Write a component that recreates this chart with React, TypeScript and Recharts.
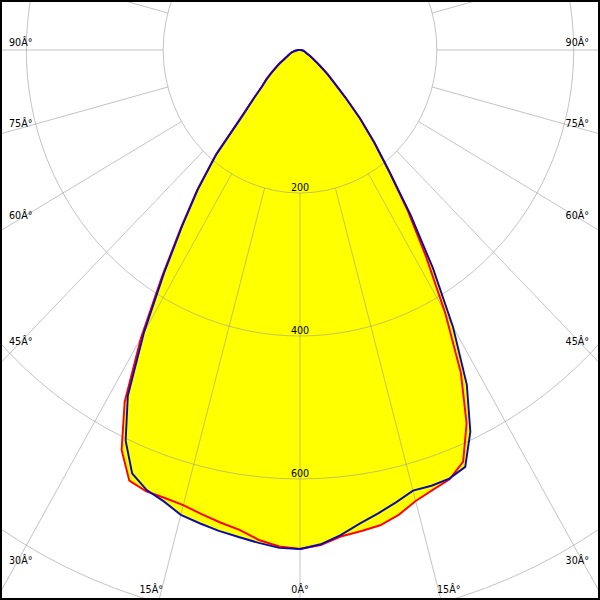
import React from 'react';
import { RadarChart, Radar, PolarGrid, PolarAngleAxis, PolarRadiusAxis } from 'recharts';

// gamma (deg from nadir), 2.5 deg steps, lower hemisphere
const gammaLower = [
  0, 2.5, 5, 7.5, 10, 12.5, 15, 17.5, 20, 22.5, 25, 27.5, 30, 32.5, 35, 37.5, 40, 42.5, 45,
  47.5, 50, 52.5, 55, 57.5, 60, 62.5, 65, 67.5, 70, 72.5, 75, 77.5, 80, 82.5, 85, 87.5, 90,
];
// upper hemisphere, no light above the horizon
const gammaUpper = [
  92.5, 95, 97.5, 100, 102.5, 105, 107.5, 110, 112.5, 115, 117.5, 120, 122.5, 125, 127.5, 130,
  132.5, 135, 137.5, 140, 142.5, 145, 147.5, 150, 152.5, 155, 157.5, 160, 162.5, 165, 167.5,
  170, 172.5, 175, 177.5, 180,
];
const upperValues = [
  0, 0, 0, 0, 0, 0, 0, 0, 0, 0, 0, 0, 0, 0, 0, 0, 0, 0, 0, 0, 0, 0, 0, 0, 0, 0, 0, 0, 0, 0, 0,
  0, 0, 0, 0, 0,
];

// cd/klm
const redRight = [
  698, 693, 683, 679, 675, 666, 653, 645, 639, 623, 576, 509, 424, 343, 275, 213, 168, 129, 93,
  67, 52, 38, 29, 22, 17, 13, 10, 9, 8, 7, 6, 5, 4, 3, 2, 2, 1,
];
const blueRight = [
  698, 692, 681, 668, 658, 648, 638, 639, 638, 631, 589, 528, 447, 361, 282, 215, 169, 130, 94,
  68, 53, 38, 29, 22, 17, 13, 10, 9, 8, 7, 6, 5, 4, 3, 2, 2, 1,
];
const redLeft = [
  698, 695, 688, 677, 671, 665, 659, 657, 657, 652, 617, 555, 465, 375, 303, 247, 192, 126, 96,
  76, 65, 54, 44, 37, 29, 24, 20, 18, 16, 14, 12, 10, 8, 6, 4, 3, 2,
];
const blueLeft = [
  698, 697, 692, 687, 683, 678, 673, 662, 655, 641, 603, 545, 456, 370, 300, 245, 190, 124, 95,
  75, 64, 53, 43, 36, 28, 24, 20, 18, 16, 14, 12, 10, 8, 6, 4, 3, 2,
];

const angleLabels = [0, 15, 30, 45, 60, 75, 90];
const gridGammas = [0, 15, 30, 45, 60, 75, 90, 105, 120, 135, 150, 165, 180];
const ringLabels = [200, 400, 600];

const halfGammas = [...gammaLower, ...gammaUpper];
const rR = [...redRight, ...upperValues];
const bR = [...blueRight, ...upperValues];
const rL = [...redLeft, ...upperValues];
const bL = [...blueLeft, ...upperValues];

// theta: angle on screen from nadir, right half first (0..180), then left half (180..360)
type Row = { theta: number; red: number; blue: number };
const data: Row[] = [];
halfGammas.forEach((g, i) => {
  data.push({ theta: g, red: rR[i], blue: bR[i] });
});
for (let i = halfGammas.length - 2; i >= 1; i--) {
  data.push({ theta: 360 - halfGammas[i], red: rL[i], blue: bL[i] });
}

const labelThetas = Array.from(new Set(angleLabels.flatMap((g) => [g, (360 - g) % 360])));

// the source image is squeezed horizontally
const SQUEEZE = 0.957;
const W = 627;
const H = 600;
const CX = W / 2;
const CY = 50;
const OUTER = 715;
const RMAX = 1000;
const ringPx = (v: number) => (v / RMAX) * OUTER;

const gridAngles = Array.from(new Set(gridGammas.flatMap((g) => [-90 + g, -90 - g])));

const font = { fontFamily: '"DejaVu Sans", Verdana, sans-serif', fontSize: 10 };

const AngleTick = (props: any) => {
  const theta = props.payload?.value;
  if (typeof theta !== 'number' || !labelThetas.includes(theta)) return <g />;
  const right = theta <= 180;
  const g = right ? theta : 360 - theta;
  const sign = right ? 1 : -1;
  const label = `${g}Â°`;
  if (g === 0) {
    return (
      <text x={CX} y={593} textAnchor="middle" fill="#000" style={font}>
        {label}
      </text>
    );
  }
  if (g < 30) {
    const dx = 539 * Math.tan((g * Math.PI) / 180) + 11;
    return (
      <text x={CX + sign * dx} y={593} textAnchor="middle" fill="#000" style={font}>
        {label}
      </text>
    );
  }
  const y = CY + (CX - 14.5) / Math.tan((g * Math.PI) / 180) - 3.5;
  return (
    <text
      x={right ? W - 11.5 : 9.4}
      y={y}
      textAnchor={right ? 'end' : 'start'}
      fill="#000"
      style={font}
    >
      {label}
    </text>
  );
};

const RadiusTick = (props: any) => {
  const v = props.payload?.value;
  if (!ringLabels.includes(v)) return <g />;
  return (
    <text x={props.x} y={props.y - 2} textAnchor="middle" fill="#000" style={font}>
      {v}
    </text>
  );
};

// radial lines start at the 200 ring
const dashSkip = `0 ${ringPx(200)} ${OUTER} 0`;

export default function App() {
  return (
    <div
      style={{
        position: 'absolute',
        left: 0,
        top: 0,
        width: 600,
        height: 600,
        overflow: 'hidden',
        background: '#fff',
      }}
    >
      <div style={{ width: W, height: H, transform: `scaleX(${SQUEEZE})`, transformOrigin: '0 0' }}>
        <RadarChart
          width={W}
          height={H}
          data={data}
          cx={CX}
          cy={CY}
          outerRadius={OUTER}
          startAngle={-90}
          endAngle={270}
          margin={{ top: 0, right: 0, bottom: 0, left: 0 }}
        >
          <Radar dataKey="red" fill="#ffff00" fillOpacity={1} stroke="none" dot={false} activeDot={false} isAnimationActive={false} zIndex={100} />
          <Radar dataKey="blue" fill="#ffff00" fillOpacity={1} stroke="none" dot={false} activeDot={false} isAnimationActive={false} zIndex={100} />
          <PolarGrid
            gridType="circle"
            radialLines={false}
            stroke="#999"
            strokeOpacity={0.6}
            strokeWidth={1}
            zIndex={200}
          />
          <PolarGrid
            gridType="circle"
            polarAngles={gridAngles}
            polarRadius={[]}
            stroke="#999"
            strokeOpacity={0.6}
            strokeWidth={1}
            strokeDasharray={dashSkip}
            zIndex={200}
          />
          <Radar dataKey="red" fill="none" stroke="#ff0000" strokeWidth={2} dot={false} activeDot={false} isAnimationActive={false} zIndex={300} />
          <Radar dataKey="blue" fill="none" stroke="#0a0ab4" strokeWidth={2} dot={false} activeDot={false} isAnimationActive={false} zIndex={300} />
          <PolarAngleAxis
            type="number"
            dataKey="theta"
            domain={[0, 360]}
            ticks={labelThetas}
            axisLine={false}
            tickLine={false}
            tick={AngleTick}
            zIndex={400}
          />
          <PolarRadiusAxis
            type="number"
            angle={-90}
            domain={[0, RMAX]}
            tickCount={6}
            axisLine={false}
            tickLine={false}
            tick={RadiusTick}
            zIndex={400}
          />
        </RadarChart>
      </div>
      <div
        style={{
          position: 'absolute',
          inset: 0,
          border: '2px solid #000',
          boxSizing: 'border-box',
          pointerEvents: 'none',
        }}
      />
    </div>
  );
}
